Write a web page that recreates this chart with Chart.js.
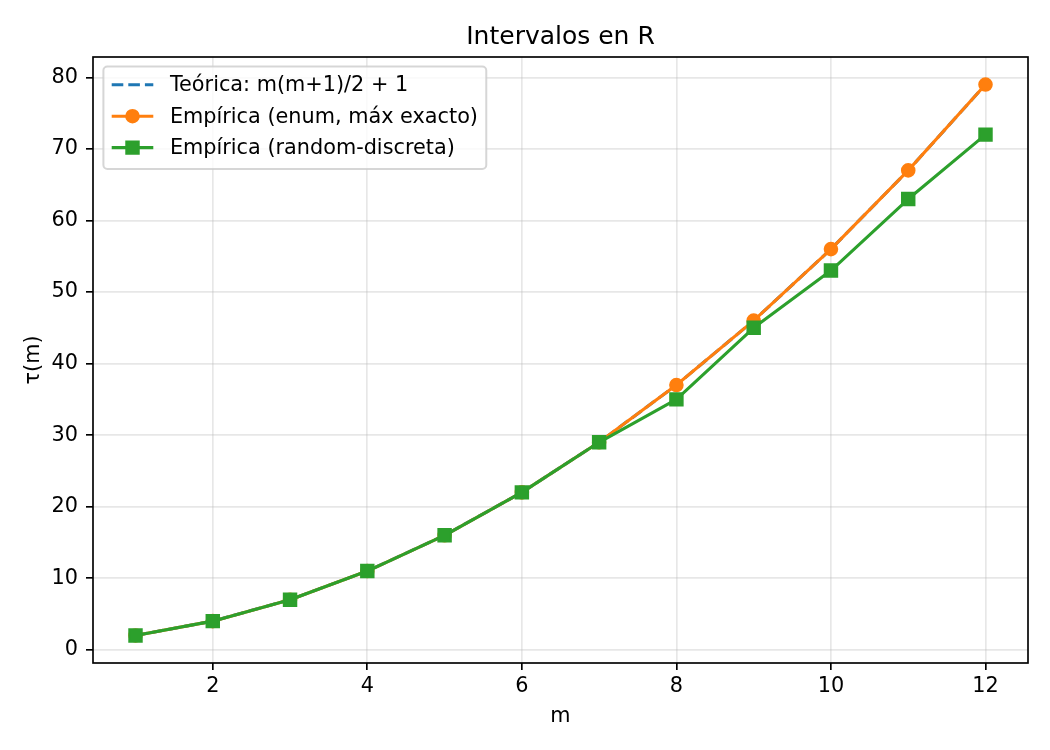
<!DOCTYPE html>
<html>
<head>
<meta charset="utf-8">
<title>Intervalos en R</title>
<script src="https://cdn.jsdelivr.net/npm/chart.js@4/dist/chart.umd.min.js"></script>
<style>
  body { margin: 0; background: #ffffff; }
  #wrap { width: 1050px; height: 750px; }
</style>
</head>
<body>
<div id="wrap"><canvas id="tauChart" width="1050" height="750"></canvas></div>
<script>
// ==========================================
// DATOS
// ==========================================

const mValues = [1, 2, 3, 4, 5, 6, 7, 8, 9, 10, 11, 12];
const teorica = [2, 4, 7, 11, 16, 22, 29, 37, 46, 56, 67, 79];
const empiricaEnum = [2, 4, 7, 11, 16, 22, 29, 37, 46, 56, 67, 79];
const empiricaRandom = [2, 4, 7, 11, 16, 22, 29, 35, 45, 53, 63, 72];

const xTicks = [2, 4, 6, 8, 10, 12];
const yTicks = [0, 10, 20, 30, 40, 50, 60, 70, 80];

const chartTitle = "Intervalos en R";
const labelTeorica = "Teórica: m(m+1)/2 + 1";
const labelEnum = "Empírica (enum, máx exacto)";
const labelRandom = "Empírica (random-discreta)";

// ==========================================
// ESTILO
// ==========================================

const FONT = "'DejaVu Sans', 'Liberation Sans', sans-serif";
const TICK_SIZE = 20.8;
const LW = 3.1;
const GRID_COLOR = "rgba(176, 176, 176, 0.3)";

function toPoints(values) {
  return mValues.map((m, i) => ({ x: m, y: values[i] }));
}

// ==========================================
// PLUGIN: titulo centrado en el area de ejes
// ==========================================

const titlePlugin = {
  id: "axesTitle",
  afterDraw(chart) {
    const { ctx, chartArea: a } = chart;
    ctx.save();
    ctx.font = "25px " + FONT;
    ctx.fillStyle = "#000000";
    ctx.textAlign = "center";
    ctx.textBaseline = "middle";
    ctx.fillText(chartTitle, (a.left + a.right) / 2, 37);
    ctx.restore();
  },
};

// ==========================================
// PLUGIN: marco de ejes + leyenda
// ==========================================

const framePlugin = {
  id: "frame",
  afterDatasetsDraw(chart) {
    const { ctx, chartArea: a } = chart;
    ctx.save();
    ctx.strokeStyle = "#000000";
    ctx.lineWidth = 1.67;
    ctx.strokeRect(a.left, a.top, a.right - a.left, a.bottom - a.top);
    ctx.restore();
  },
};

const legendPlugin = {
  id: "mplLegend",
  afterDraw(chart) {
    const { ctx, chartArea: a } = chart;
    const fs = TICK_SIZE;
    const boxX = a.left + 10.4;
    const boxY = a.top + 9.5;
    const pad = 8.3;
    const handleLen = 41.6;
    const textPad = 16.6;
    const rowStep = 31.4;

    ctx.save();
    ctx.font = fs + "px " + FONT;

    const items = chart.data.datasets;
    let maxW = 0;
    items.forEach((ds) => {
      maxW = Math.max(maxW, ctx.measureText(ds.label).width);
    });

    const boxW = pad + handleLen + textPad + maxW + pad;
    const boxH = pad * 2 + rowStep * items.length - 10.4 + 2;

    // marco
    ctx.beginPath();
    ctx.roundRect(boxX, boxY, boxW, boxH, 4);
    ctx.fillStyle = "rgba(255, 255, 255, 0.8)";
    ctx.fill();
    ctx.lineWidth = 2;
    ctx.strokeStyle = "rgba(204, 204, 204, 0.8)";
    ctx.stroke();

    items.forEach((ds, i) => {
      const cy = boxY + 18.3 + i * rowStep;
      const hx = boxX + pad;

      // linea
      ctx.beginPath();
      ctx.setLineDash(ds.borderDash || []);
      ctx.lineWidth = ds.borderWidth;
      ctx.strokeStyle = ds.borderColor;
      ctx.lineCap = "butt";
      ctx.moveTo(hx, cy);
      ctx.lineTo(hx + handleLen, cy);
      ctx.stroke();
      ctx.setLineDash([]);

      // marcador
      if (ds.pointRadius > 0) {
        ctx.fillStyle = ds.pointBackgroundColor;
        ctx.strokeStyle = ds.pointBorderColor;
        ctx.lineWidth = ds.pointBorderWidth;
        Chart.helpers.drawPoint(
          ctx,
          { pointStyle: ds.pointStyle, radius: ds.pointRadius, rotation: 0, borderWidth: ds.pointBorderWidth },
          hx + handleLen / 2,
          cy
        );
      }

      // texto
      ctx.fillStyle = "#000000";
      ctx.textBaseline = "middle";
      ctx.textAlign = "left";
      ctx.fillText(ds.label, hx + handleLen + textPad, cy + 1);
    });

    ctx.restore();
  },
};

// ==========================================
// GRAFICO
// ==========================================

function initChart() {
  const ctx = document.getElementById("tauChart").getContext("2d");

  new Chart(ctx, {
    type: "line",
    data: {
      datasets: [
        {
          label: labelTeorica,
          data: toPoints(teorica),
          borderColor: "#1f77b4",
          backgroundColor: "#1f77b4",
          borderWidth: LW,
          borderDash: [11.6, 5],
          pointRadius: 0,
          order: 3,
        },
        {
          label: labelEnum,
          data: toPoints(empiricaEnum),
          borderColor: "#ff7f0e",
          backgroundColor: "#ff7f0e",
          borderWidth: LW,
          pointStyle: "circle",
          pointRadius: 6.3,
          pointBackgroundColor: "#ff7f0e",
          pointBorderColor: "#ff7f0e",
          pointBorderWidth: 2,
          order: 2,
        },
        {
          label: labelRandom,
          data: toPoints(empiricaRandom),
          borderColor: "#2ca02c",
          backgroundColor: "#2ca02c",
          borderWidth: LW,
          pointStyle: "rect",
          pointRadius: 8.8,
          pointBackgroundColor: "#2ca02c",
          pointBorderColor: "#2ca02c",
          pointBorderWidth: 2,
          order: 1,
        },
      ],
    },
    options: {
      responsive: false,
      animation: false,
      devicePixelRatio: 1,
      elements: {
        line: { tension: 0, borderJoinStyle: "round", fill: false },
        point: { hoverRadius: 0 },
      },
      layout: { padding: { left: 0, right: 22, top: 57, bottom: 0 } },
      plugins: {
        legend: { display: false },
        tooltip: { enabled: false },
        title: { display: false },
      },
      scales: {
        x: {
          type: "linear",
          min: 0.45,
          max: 12.55,
          afterBuildTicks: (s) => {
            s.ticks = xTicks.map((v) => ({ value: v }));
          },
          afterFit: (s) => {
            s.height = 87;
          },
          grid: {
            color: GRID_COLOR,
            lineWidth: 1.67,
            drawTicks: true,
            tickLength: 7,
            tickColor: "#000000",
            tickWidth: 1.67,
          },
          border: { display: false },
          ticks: {
            color: "#000000",
            padding: 4,
            maxRotation: 0,
            font: { family: FONT, size: TICK_SIZE },
            callback: (v) => String(v),
          },
          title: {
            display: true,
            text: "m",
            color: "#000000",
            font: { family: FONT, size: TICK_SIZE, lineHeight: 1.2 },
            padding: { top: 0, bottom: 20.5 },
          },
        },
        y: {
          type: "linear",
          min: -1.85,
          max: 82.85,
          afterBuildTicks: (s) => {
            s.ticks = yTicks.map((v) => ({ value: v }));
          },
          afterFit: (s) => {
            s.width = 93;
          },
          grid: {
            color: GRID_COLOR,
            lineWidth: 1.67,
            drawTicks: true,
            tickLength: 7,
            tickColor: "#000000",
            tickWidth: 1.67,
          },
          border: { display: false },
          ticks: {
            color: "#000000",
            padding: 8,
            font: { family: FONT, size: TICK_SIZE },
            callback: (v) => String(v),
          },
          title: {
            display: true,
            text: "τ(m)",
            color: "#000000",
            font: { family: FONT, size: TICK_SIZE, lineHeight: 1.2 },
            padding: { top: 21, bottom: 0 },
          },
        },
      },
    },
    plugins: [framePlugin, legendPlugin, titlePlugin],
  });
}

window.addEventListener("DOMContentLoaded", () => {
  initChart();
});
</script>
</body>
</html>
